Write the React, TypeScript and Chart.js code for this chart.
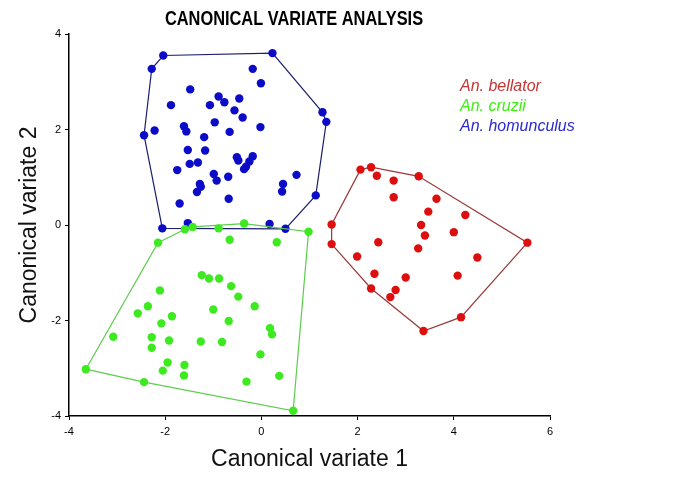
import React, { useEffect, useRef } from "react";
import { Chart, registerables } from "chart.js";

Chart.register(...registerables);

// ---- Data ----
const speciesNames = ["An. bellator", "An. cruzii", "An. homunculus"];

const bellatorX = [2.06, 2.28, 2.40, 2.75, 3.27, 2.75, 3.64, 3.47, 4.24, 3.32, 3.40, 4.00, 1.46, 1.46, 2.43, 3.26, 5.53, 1.99, 4.49, 2.35, 3.00, 4.08, 2.28, 2.79, 2.68, 4.15, 3.37];
const bellatorY = [1.16, 1.21, 1.03, 0.93, 1.02, 0.58, 0.55, 0.28, 0.21, 0.00, -0.22, -0.15, 0.01, -0.40, -0.36, -0.49, -0.37, -0.66, -0.68, -1.02, -1.10, -1.06, -1.33, -1.36, -1.51, -1.93, -2.22];

const cruziiX = [-1.59, -1.43, -0.89, -0.36, 0.98, -2.15, -0.66, 0.32, -1.24, -1.09, -0.88, -0.63, -0.48, -0.14, -1.00, -2.11, -2.36, -2.57, -1.86, -2.08, -0.68, 0.18, 0.22, -3.08, -2.28, -2.28, -1.92, -1.26, -0.82, -0.02, -1.95, -1.60, -2.05, -1.61, -3.65, -2.44, -0.31, 0.37, 0.66];
const cruziiY = [-0.09, -0.04, -0.07, 0.03, -0.14, -0.37, -0.31, -0.36, -1.05, -1.12, -1.12, -1.28, -1.50, -1.70, -1.77, -1.37, -1.70, -1.85, -1.91, -2.06, -2.01, -2.16, -2.29, -2.34, -2.35, -2.57, -2.42, -2.44, -2.45, -2.71, -2.88, -2.93, -3.05, -3.15, -3.02, -3.29, -3.28, -3.16, -3.89];

const homunculusX = [-2.04, 0.23, -2.28, -0.18, -0.01, -1.48, -1.88, -0.89, -0.77, -1.07, -0.46, -0.56, -0.39, 1.27, 1.35, -0.97, -1.61, -1.56, -2.22, -2.44, -0.66, -0.02, -1.19, -1.53, -1.17, -1.49, -1.32, -1.75, -0.51, -0.48, -0.18, -0.25, -0.32, -0.36, -0.99, -0.93, -0.69, -1.28, -1.26, -1.34, 0.73, 0.45, 0.43, -0.68, -1.70, 1.13, -2.06, -1.53, 0.17, 0.50];
const homunculusY = [3.55, 3.60, 3.27, 3.27, 2.97, 2.84, 2.51, 2.69, 2.57, 2.51, 2.65, 2.40, 2.25, 2.36, 2.16, 2.15, 2.07, 1.96, 1.98, 1.88, 1.95, 2.05, 1.84, 1.57, 1.56, 1.28, 1.31, 1.15, 1.42, 1.35, 1.44, 1.33, 1.22, 1.17, 1.07, 0.93, 1.01, 0.86, 0.80, 0.69, 1.05, 0.86, 0.70, 0.55, 0.45, 0.62, -0.07, 0.04, 0.02, -0.08];

const xTicks = [-4, -2, 0, 2, 4, 6];
const yTicks = [-4, -2, 0, 2, 4];

const chartTitle = "CANONICAL VARIATE ANALYSIS";
const xTitle = "Canonical variate 1";
const yTitle = "Canonical variate 2";

// ---- Styles ----
const pointColors = ["#dd0e0e", "#3dea1f", "#0b0bc8"];
const hullColors = ["#9a3a3a", "#5ccc4c", "#1c1f6e"];
const legendColors = ["#c83434", "#3cf010", "#2b2bd0"];
const FONT = "'Liberation Sans', Arial, Helvetica, sans-serif";

type P = { x: number; y: number };

function toPoints(xs: number[], ys: number[]): P[] {
  return xs.map((x, i) => ({ x, y: ys[i] }));
}

function convexHull(pts: P[]): P[] {
  const s = [...pts].sort((a, b) => (a.x === b.x ? a.y - b.y : a.x - b.x));
  const cross = (o: P, a: P, b: P) => (a.x - o.x) * (b.y - o.y) - (a.y - o.y) * (b.x - o.x);
  const lower: P[] = [];
  for (const p of s) {
    while (lower.length >= 2 && cross(lower[lower.length - 2], lower[lower.length - 1], p) <= 0) lower.pop();
    lower.push(p);
  }
  const upper: P[] = [];
  for (let i = s.length - 1; i >= 0; i--) {
    const p = s[i];
    while (upper.length >= 2 && cross(upper[upper.length - 2], upper[upper.length - 1], p) <= 0) upper.pop();
    upper.push(p);
  }
  upper.pop();
  lower.pop();
  const h = lower.concat(upper);
  return [...h, h[0]];
}

const overlayPlugin = {
  id: "overlayText",
  afterDraw(chart: any) {
    const ctx = chart.ctx as CanvasRenderingContext2D;
    const area = chart.chartArea;
    ctx.save();
    // Title (condensed bold)
    ctx.fillStyle = "#000";
    ctx.font = `bold 21px ${FONT}`;
    ctx.textAlign = "center";
    ctx.textBaseline = "alphabetic";
    ctx.translate(294, 25);
    ctx.scale(0.78, 1);
    ctx.fillText(chartTitle, 0, 0);
    ctx.restore();

    // Legend as coloured italic text
    ctx.save();
    ctx.font = `italic 16px ${FONT}`;
    ctx.textAlign = "left";
    ctx.textBaseline = "alphabetic";
    const lx = area.left + 391;
    const ly0 = area.top + 57;
    speciesNames.forEach((name, i) => {
      ctx.fillStyle = legendColors[i];
      ctx.fillText(name, lx, ly0 + i * 20);
    });
    ctx.restore();
  },
};

export default function App() {
  const ref = useRef<HTMLCanvasElement | null>(null);

  useEffect(() => {
    if (!ref.current) return;
    const groups = [
      toPoints(bellatorX, bellatorY),
      toPoints(cruziiX, cruziiY),
      toPoints(homunculusX, homunculusY),
    ];
    const datasets: any[] = [];
    groups.forEach((pts, i) => {
      datasets.push({
        label: speciesNames[i],
        data: pts,
        pointRadius: 4.2,
        pointHoverRadius: 4.2,
        pointBackgroundColor: pointColors[i],
        pointBorderColor: pointColors[i],
        pointBorderWidth: 0,
        showLine: false,
      });
      datasets.push({
        label: speciesNames[i] + " hull",
        data: convexHull(pts),
        showLine: true,
        fill: false,
        borderColor: hullColors[i],
        borderWidth: 1.2,
        pointRadius: 0,
        tension: 0,
      });
    });

    const tickFont = { family: FONT, size: 11 };
    const chart = new Chart(ref.current, {
      type: "scatter",
      data: { datasets },
      plugins: [overlayPlugin],
      options: {
        animation: false,
        responsive: false,
        devicePixelRatio: 1,
        events: [],
        layout: { padding: { top: 34, right: 135, left: 0, bottom: 0 } },
        plugins: {
          legend: { display: false },
          title: { display: false },
          tooltip: { enabled: false },
        },
        scales: {
          x: {
            type: "linear",
            min: -4,
            max: 6,
            afterBuildTicks: (s: any) => {
              s.ticks = xTicks.map((v) => ({ value: v }));
            },
            afterFit: (s: any) => {
              s.height = 65;
            },
            grid: { display: true, drawOnChartArea: false, drawTicks: true, tickLength: 4, color: "#000", lineWidth: 1 },
            border: { display: true, color: "#000", width: 1.5 },
            ticks: { color: "#000", font: tickFont, padding: 5, maxRotation: 0 },
            title: {
              display: true,
              text: xTitle,
              color: "#111",
              font: { family: FONT, size: 23 },
              padding: { top: 0, bottom: 8 },
            },
          },
          y: {
            type: "linear",
            min: -4,
            max: 4,
            afterBuildTicks: (s: any) => {
              s.ticks = yTicks.map((v) => ({ value: v }));
            },
            afterFit: (s: any) => {
              s.width = 69;
            },
            grid: { display: true, drawOnChartArea: false, drawTicks: true, tickLength: 4, color: "#000", lineWidth: 1 },
            border: { display: true, color: "#000", width: 1.5 },
            ticks: { color: "#000", font: tickFont, padding: 4 },
            title: {
              display: true,
              text: yTitle,
              color: "#111",
              font: { family: FONT, size: 23 },
              padding: { top: 16, bottom: 0 },
            },
          },
        },
      } as any,
    });
    return () => chart.destroy();
  }, []);

  return (
    <div style={{ position: "fixed", left: 0, top: 0, width: 685, height: 481, background: "#fff" }}>
      <canvas ref={ref} width={685} height={481} style={{ width: 685, height: 481, display: "block" }} />
    </div>
  );
}
